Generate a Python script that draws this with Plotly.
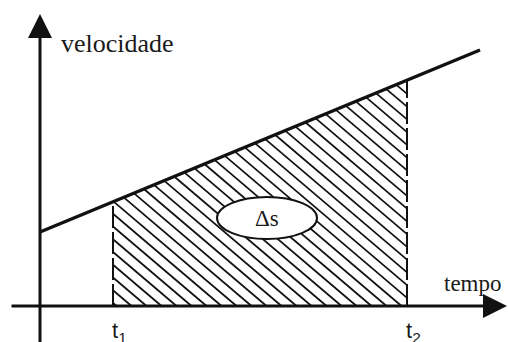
import numpy as np
import plotly.graph_objects as go

# ---- data (time / velocity, arbitrary units) ----
line_t = [0, 440]          # time at start and end of the velocity line
line_v = [74, 256]         # velocity at those times
t1 = 73
t2 = 367
x_label = "tempo"
y_label = "velocidade"
area_label = "Δs"
tick_labels = ["t<sub>1</sub>", "t<sub>2</sub>"]

# derived
v0 = line_v[0]
acc = (line_v[1] - line_v[0]) / (line_t[1] - line_t[0])
v_t1 = float(np.interp(t1, line_t, line_v))
v_t2 = float(np.interp(t2, line_t, line_v))

fig = go.Figure()

# hatch lines clipped to the area under the line between t1 and t2
s = 0.85           # hatch slope
step = 15 * s      # spacing along y-intercept
hx, hy = [], []
c = s * t1 + 3
c_max = v_t2 + s * t2
while c < c_max:
    x_lo = max(t1, (c - v0) / (s + acc))
    x_hi = min(t2, c / s)
    if x_lo < x_hi:
        hx += [x_lo, x_hi, None]
        hy += [c - s * x_lo, c - s * x_hi, None]
    c += step
fig.add_trace(go.Scatter(x=hx, y=hy, mode="lines",
                         line=dict(color="#111", width=1.7), hoverinfo="skip"))

# dashed verticals at t1 and t2
for t, v in [(t1, v_t1), (t2, v_t2)]:
    fig.add_trace(go.Scatter(x=[t, t], y=[0, v], mode="lines",
                             line=dict(color="#111", width=2, dash="22px,4px"),
                             hoverinfo="skip"))

# velocity line
fig.add_trace(go.Scatter(x=line_t, y=line_v, mode="lines",
                         line=dict(color="#111", width=3.5), hoverinfo="skip"))

# ellipse with Δs
ex, ey = (t1 + t2) / 2 + 7, 88
fig.add_shape(type="circle", xref="x", yref="y",
              x0=ex - 50, x1=ex + 50, y0=ey - 21, y1=ey + 21,
              fillcolor="white", line=dict(color="#111", width=2), layer="above")

annotations = []
# axes as arrows
annotations.append(dict(x=0, y=292, ax=0, ay=-40, xref="x", yref="y", axref="x", ayref="y",
                        showarrow=True, arrowhead=2, arrowsize=1.6, arrowwidth=3,
                        arrowcolor="#111", text=""))
annotations.append(dict(x=467, y=0, ax=-30, ay=0, xref="x", yref="y", axref="x", ayref="y",
                        showarrow=True, arrowhead=2, arrowsize=1.6, arrowwidth=3,
                        arrowcolor="#111", text=""))

serif = "Times New Roman, Liberation Serif, DejaVu Serif, serif"
sans = "Arial, Liberation Sans, sans-serif"
annotations.append(dict(x=19, y=263, xref="x", yref="y", text=y_label, showarrow=False,
                        xanchor="left", yanchor="middle",
                        font=dict(family=serif, size=26, color="#1a1a1a")))
annotations.append(dict(x=402, y=23, xref="x", yref="y", text=x_label, showarrow=False,
                        xanchor="left", yanchor="middle",
                        font=dict(family=serif, size=23, color="#1a1a1a")))
annotations.append(dict(x=ex, y=ey, xref="x", yref="y", text=area_label, showarrow=False,
                        xanchor="center", yanchor="middle",
                        font=dict(family=serif, size=23, color="#1a1a1a")))
for t, lab in zip([t1, t2], tick_labels):
    annotations.append(dict(x=t + 6, y=-26, xref="x", yref="y", text=lab, showarrow=False,
                            xanchor="center", yanchor="middle",
                            font=dict(family=sans, size=22, color="#1a1a1a")))

fig.update_layout(
    width=508, height=342,
    margin=dict(l=0, r=0, t=0, b=0),
    paper_bgcolor="white", plot_bgcolor="white",
    showlegend=False,
    font=dict(family=serif),
    xaxis=dict(range=[-40, 468], visible=False, fixedrange=True),
    yaxis=dict(range=[-36, 306], visible=False, fixedrange=True),
    annotations=annotations,
)

fig.write_html("out.html", config={"displayModeBar": False},
               post_script="document.body.style.margin='0';document.body.style.padding='0';"
                           "document.documentElement.style.overflow='hidden';")
